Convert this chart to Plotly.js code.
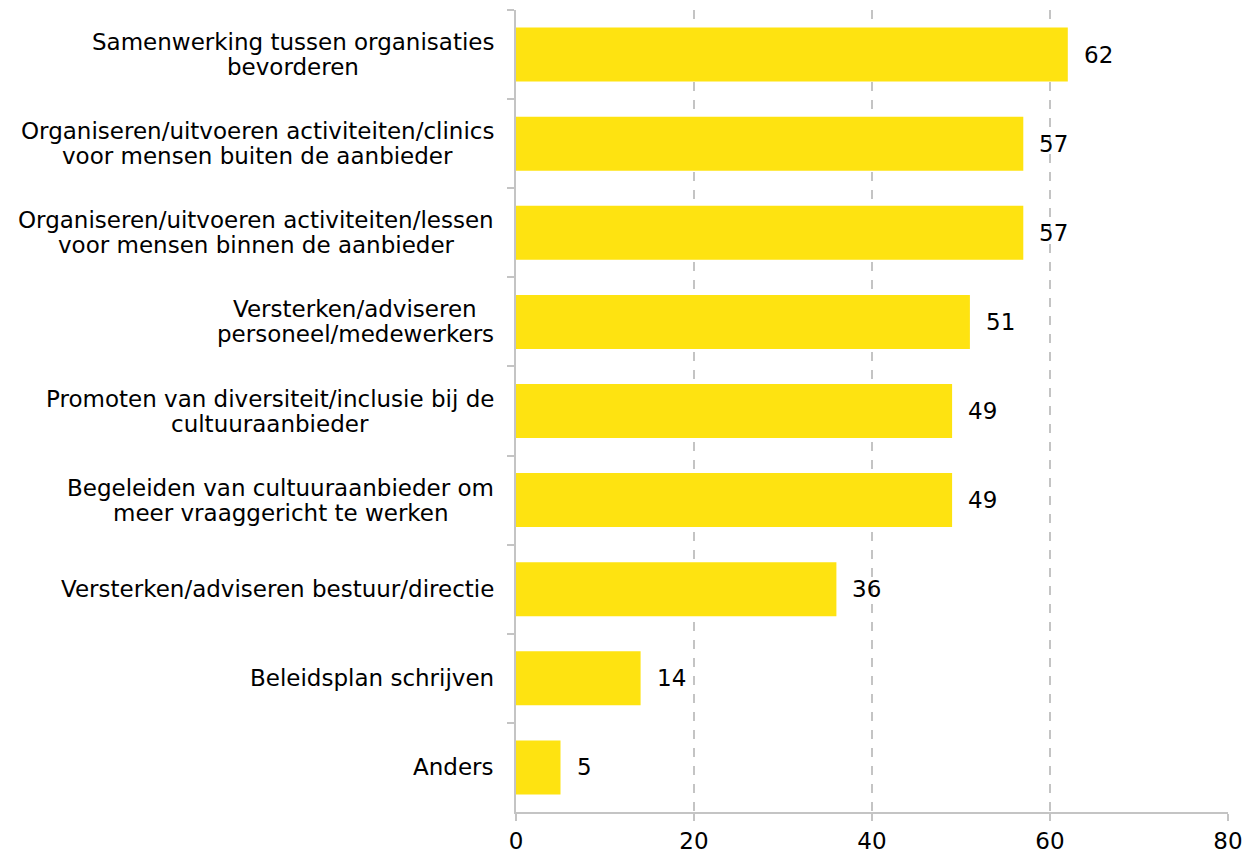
<!DOCTYPE html>
<html>
<head>
<meta charset="utf-8">
<script src="https://cdn.plot.ly/plotly-3.0.1.min.js"></script>
<style>html,body{margin:0;padding:0;background:#fff}#chart{width:1253px;height:855px}</style>
</head>
<body>
<div id="chart"></div>
<script>
const categories = [
  "Samenwerking tussen organisaties<br>bevorderen",
  "Organiseren/uitvoeren activiteiten/clinics<br>voor mensen buiten de aanbieder",
  "Organiseren/uitvoeren activiteiten/lessen<br>voor mensen binnen de aanbieder",
  "Versterken/adviseren<br>personeel/medewerkers",
  "Promoten van diversiteit/inclusie bij de<br>cultuuraanbieder",
  "Begeleiden van cultuuraanbieder om<br>meer vraaggericht te werken",
  "Versterken/adviseren bestuur/directie",
  "Beleidsplan schrijven",
  "Anders"
];
const values = [62, 57, 57, 51, 49, 49, 36, 14, 5];
const xTicks = [0, 20, 40, 60, 80];

const FONT = "DejaVu Sans, Verdana, sans-serif";
const FSIZE = 23;
const LINE_H = 25;
const LABEL_GAP = 22;

const ctx = document.createElement("canvas").getContext("2d");
ctx.font = FSIZE + "px 'DejaVu Sans'";

const trace = {
  type: "bar",
  orientation: "h",
  y: categories,
  x: values,
  marker: {color: "#FEE311"},
  cliponaxis: false,
  hoverinfo: "none"
};

const annotations = [];
categories.forEach(c => {
  const lines = c.split("<br>");
  const maxW = Math.max(...lines.map(l => ctx.measureText(l).width));
  lines.forEach((l, i) => {
    annotations.push({
      xref: "paper", yref: "y",
      x: 0, y: c,
      xanchor: "center", yanchor: "middle",
      xshift: -(LABEL_GAP + maxW / 2),
      yshift: ((lines.length - 1) / 2 - i) * LINE_H,
      text: l,
      showarrow: false,
      font: {family: FONT, size: FSIZE, color: "#000"}
    });
  });
});
values.forEach((v, i) => {
  annotations.push({
    xref: "x", yref: "y",
    x: v, y: categories[i],
    xanchor: "left", yanchor: "middle",
    xshift: 14,
    text: String(v),
    showarrow: false,
    font: {family: FONT, size: FSIZE, color: "#000"}
  });
});

const layout = {
  width: 1253, height: 855,
  margin: {l: 516, r: 25, t: 10, b: 43},
  paper_bgcolor: "#fff",
  plot_bgcolor: "#fff",
  showlegend: false,
  bargap: 0.394,
  font: {family: FONT, size: FSIZE, color: "#000"},
  xaxis: {
    range: [0, 80],
    tickvals: xTicks,
    ticktext: xTicks.map(String),
    showgrid: true,
    gridcolor: "#c4c4c4",
    griddash: "dash",
    gridwidth: 1.5,
    zeroline: false,
    showline: true,
    linecolor: "#c4c4c4",
    linewidth: 2,
    ticks: "outside",
    ticklen: 7,
    tickwidth: 2,
    tickcolor: "#c4c4c4",
    tickfont: {family: FONT, size: FSIZE, color: "#000"},
    fixedrange: true
  },
  yaxis: {
    type: "category",
    autorange: "reversed",
    showticklabels: false,
    tickson: "boundaries",
    ticks: "outside",
    ticklen: 7,
    tickwidth: 2,
    tickcolor: "#c4c4c4",
    showline: true,
    linecolor: "#c4c4c4",
    linewidth: 2,
    showgrid: false,
    zeroline: false,
    fixedrange: true
  },
  annotations: annotations
};

Plotly.newPlot("chart", [trace], layout, {displayModeBar: false, staticPlot: true});
</script>
</body>
</html>
